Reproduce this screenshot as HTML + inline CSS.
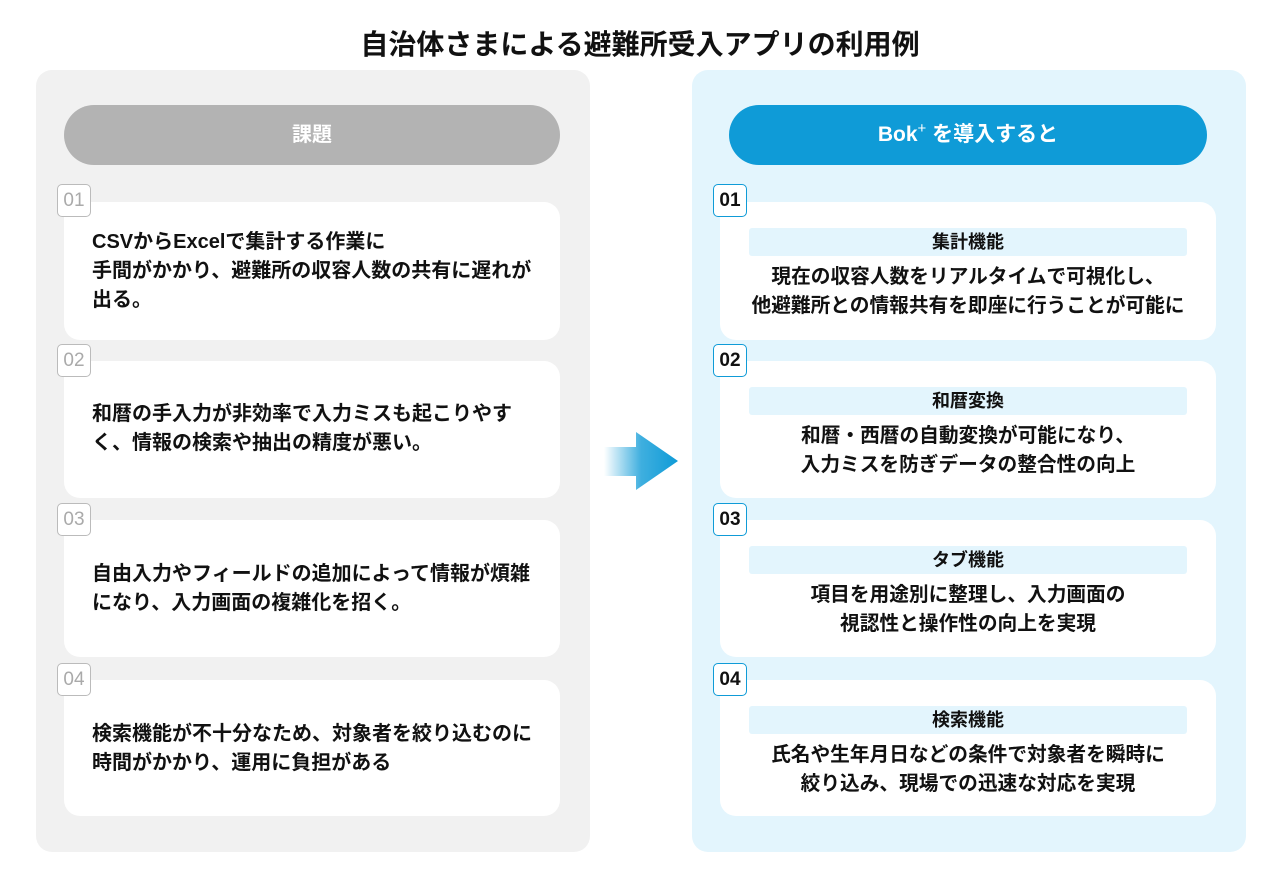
<!DOCTYPE html>
<html><head><meta charset="utf-8"><style>
*{margin:0;padding:0;box-sizing:border-box}
body{width:1280px;height:887px;background:#fff;position:relative;font-family:"Liberation Sans","Noto Sans CJK JP",sans-serif;color:#111;overflow:hidden}
.abs{position:absolute}
h1{position:absolute;left:0;width:1280px;top:27px;text-align:center;font-size:28px;font-weight:700;line-height:36px}
.panel{position:absolute;top:70px;height:782px;width:554px;border-radius:16px}
.pill{position:absolute;top:105px;height:60px;border-radius:30px;color:#fff;font-size:20px;font-weight:700;text-align:center;line-height:60px}
.card{position:absolute;background:#fff;border-radius:16px;width:496px}
.badge{position:absolute;width:34px;height:33px;border-radius:5px;background:#fff;font-size:19px;text-align:center;line-height:31px;font-weight:500}
.lb{border:1.5px solid #bbb;color:#aaa}
.rb{border:1.5px solid #0f9bd7;color:#111;font-weight:700}
.lt{position:absolute;left:28px;font-size:20px;font-weight:700;line-height:29px;white-space:nowrap}
.bar{position:absolute;left:29px;width:438px;height:28px;top:26px;background:#e3f5fd;border-radius:3px;text-align:center;line-height:28px;font-size:18px;font-weight:700}
.rt{position:absolute;left:0;width:496px;top:61px;text-align:center;font-size:19.7px;font-weight:700;line-height:29px;white-space:nowrap}
</style></head><body>
<h1>自治体さまによる避難所受入アプリの利用例</h1>
<div class="panel" style="left:36px;background:#f1f1f1"></div>
<div class="panel" style="left:692px;background:#e3f5fd"></div>
<div class="pill" style="left:64px;width:496px;background:#b3b3b3">課題</div>
<div class="pill" style="left:729px;width:478px;background:#0f9bd7;font-size:21px">Bok<span style="font-size:15px;font-weight:400;position:relative;top:-8px">+</span> を導入すると</div>

<div class="card" style="left:64px;top:202px;height:138px"><div class="lt" style="top:26px">CSVからExcelで集計する作業に<br>手間がかかり、避難所の収容人数の共有に遅れが<br>出る。</div></div>
<div class="card" style="left:64px;top:361px;height:137px"><div class="lt" style="top:39px">和暦の手入力が非効率で入力ミスも起こりやす<br>く、情報の検索や抽出の精度が悪い。</div></div>
<div class="card" style="left:64px;top:520px;height:137px"><div class="lt" style="top:40px">自由入力やフィールドの追加によって情報が煩雑<br>になり、入力画面の複雑化を招く。</div></div>
<div class="card" style="left:64px;top:680px;height:136px"><div class="lt" style="top:40px">検索機能が不十分なため、対象者を絞り込むのに<br>時間がかかり、運用に負担がある</div></div>
<div class="badge lb" style="left:57px;top:184px">01</div>
<div class="badge lb" style="left:57px;top:344px">02</div>
<div class="badge lb" style="left:57px;top:503px">03</div>
<div class="badge lb" style="left:57px;top:663px">04</div>

<div class="card" style="left:720px;top:202px;height:138px"><div class="bar">集計機能</div><div class="rt">現在の収容人数をリアルタイムで可視化し、<br>他避難所との情報共有を即座に行うことが可能に</div></div>
<div class="card" style="left:720px;top:361px;height:137px"><div class="bar">和暦変換</div><div class="rt">和暦・西暦の自動変換が可能になり、<br>入力ミスを防ぎデータの整合性の向上</div></div>
<div class="card" style="left:720px;top:520px;height:137px"><div class="bar">タブ機能</div><div class="rt">項目を用途別に整理し、入力画面の<br>視認性と操作性の向上を実現</div></div>
<div class="card" style="left:720px;top:680px;height:136px"><div class="bar">検索機能</div><div class="rt">氏名や生年月日などの条件で対象者を瞬時に<br>絞り込み、現場での迅速な対応を実現</div></div>
<div class="badge rb" style="left:713px;top:184px">01</div>
<div class="badge rb" style="left:713px;top:344px">02</div>
<div class="badge rb" style="left:713px;top:503px">03</div>
<div class="badge rb" style="left:713px;top:663px">04</div>

<svg class="abs" style="left:600px;top:428px" width="82" height="66">
<defs><linearGradient id="g" x1="0" x2="1"><stop offset="0" stop-color="#0f9bd7" stop-opacity="0"/><stop offset="0.5" stop-color="#0f9bd7" stop-opacity="0.8"/><stop offset="1" stop-color="#0f9bd7"/></linearGradient></defs>
<path d="M4 19 H36 V4 L78 33 L36 62 V48 H4 Z" fill="url(#g)"/>
</svg>
</body></html>
